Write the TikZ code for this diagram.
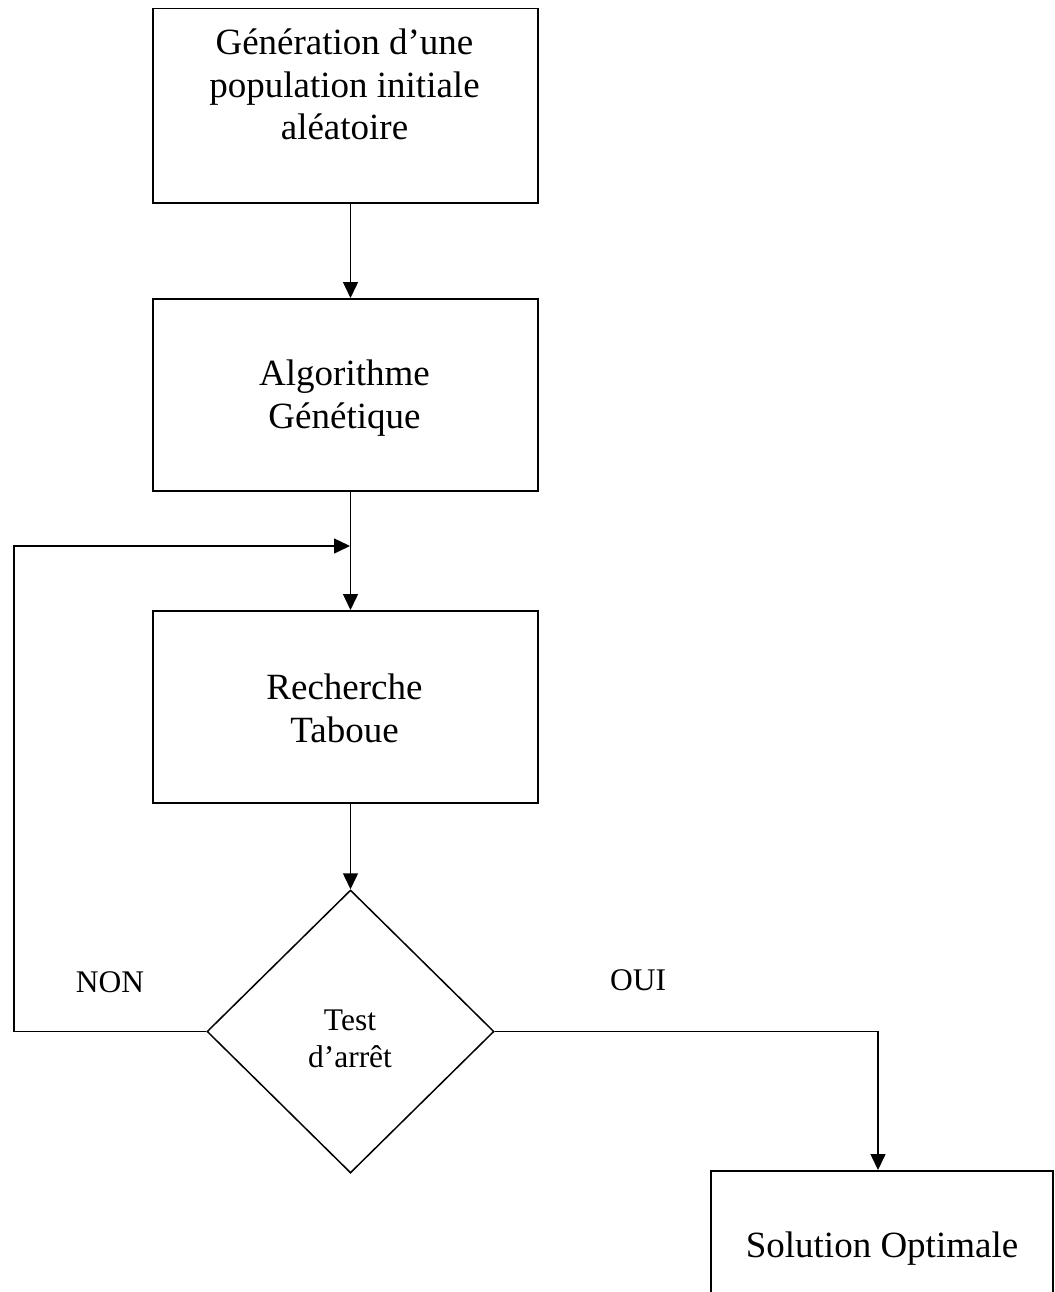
\documentclass[tikz,border=0pt]{standalone}
\usepackage{fontspec}
\setmainfont{Liberation Serif}
\usetikzlibrary{arrows.meta,shapes.geometric}
\begin{document}
\begin{tikzpicture}[x=1pt,y=-1pt,
  box/.style={draw, line width=1.5pt, rectangle, inner sep=0pt, anchor=north west},
  txt/.style={font=\fontsize{37}{42.5}\selectfont, align=center, inner sep=0pt, anchor=base},
  small/.style={font=\fontsize{31.5}{37}\selectfont, align=center, inner sep=0pt, anchor=base},
  arr/.style={line width=1.5pt, -{Triangle[length=16pt,width=15pt]}}
]
\useasboundingbox (0,0) rectangle (1054,1292);
\clip (0,0) rectangle (1054,1292);

% boxes
\node[box, minimum width=385pt, minimum height=194pt] (gen) at (152,8) {};
\node[box, minimum width=385pt, minimum height=192pt] (algo) at (152,298) {};
\node[box, minimum width=385pt, minimum height=192pt] (rech) at (152,610) {};
\node[box, minimum width=342pt, minimum height=150pt] (sol) at (710,1170) {};
\node[draw, line width=1.5pt, shape=diamond, inner sep=0pt, minimum width=287pt, minimum height=283pt] (dia) at (350.5,1031.5) {};

% texts (base anchor = baseline of the last line)
\node[txt] (gent) at (344.5,140) {Génération d’une\\population initiale\\aléatoire};
\node[txt] (algot) at (344.5,428) {Algorithme\\Génétique};
\node[txt] (recht) at (344.5,742) {Recherche\\Taboue};
\node[txt] (solt) at (882,1257) {Solution Optimale};
\node[small] (diat) at (350,1067) {Test\\d’arrêt};
\node[small] (non) at (110,992) {NON};
\node[small] (oui) at (638,990) {OUI};

% connectors
\coordinate (loopin) at (350,546);
\coordinate (loopleft) at (14,546);
\coordinate (ouicorner) at (878,1031.5);

\draw[arr] (gen.south -| dia.north) -- (algo.north -| dia.north);
\draw[arr] (algo.south -| dia.north) -- (rech.north -| dia.north);
\draw[arr] (rech.south -| dia.north) -- (dia.north);
\draw[arr] (dia.west) -| (loopleft) -- (loopin);
\draw[arr] (dia.east) -- (ouicorner) -- (ouicorner |- sol.north);
\end{tikzpicture}
\end{document}
